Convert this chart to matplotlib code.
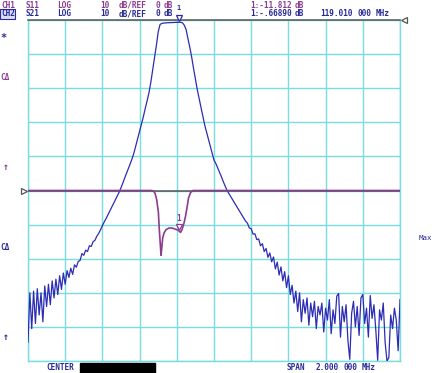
import numpy as np
import matplotlib
matplotlib.use("Agg")
import matplotlib.pyplot as plt
from matplotlib.transforms import offset_copy

# sweep settings (center is blanked out on the screen)
f_start = 118.2
f_stop = 120.2
n_points = 201

# CH2  S21, log mag, 10 dB/div, ref 0 dB at top
s21_db = [
    -94.5, -80.0, -90.5, -79.5, -89.0, -78.8, -86.5, -80.0, -88.5, -78.0,
    -84.0, -77.5, -83.5, -76.5, -81.5, -76.0, -80.5, -75.0, -79.0, -74.2,
    -77.5, -73.5, -75.5, -72.8, -74.6, -71.8, -72.5, -70.8,
    -70.5, -68.5, -69.0, -67.5, -67.9, -66.2, -66.4, -65.0, -64.6, -63.4,
    -62.6, -61.5, -60.3, -59.2, -58.2, -57.1, -56.0, -54.9, -53.8, -52.7,
    -51.6, -50.5,
    -49.2, -47.8, -46.3, -44.9, -43.5, -42.1, -40.6, -38.9, -36.8, -34.8,
    -32.7, -30.6, -28.4, -26.0, -23.8, -21.4, -18.4, -14.8, -11.0, -7.5,
    -3.5, -1.3,
    -1.0, -0.9, -0.85, -0.8, -0.8, -0.75, -0.75, -0.7, -0.7, -0.67, -0.67, -0.8,
    -1.5, -2.8, -5.5, -8.0, -10.9, -14.2, -17.3, -20.4, -23.0, -25.7,
    -28.3, -30.8, -32.9, -34.9, -37.0, -39.0, -41.1,
    -42.1, -43.4, -44.7, -46.0, -47.4, -48.7, -50.0, -50.9, -51.8, -52.7,
    -53.6, -54.5, -55.4, -56.3, -57.2, -58.1, -59.0, -59.6, -61.0,
    -61.2, -62.8, -62.7, -64.4, -64.2, -66.2, -65.6, -67.9, -67.0, -69.6,
    -68.3, -70.9, -69.5, -73.0, -71.0, -74.8, -72.4, -76.5, -73.8, -78.5,
    -75.0,
    -80.5, -77.8, -83.0, -79.5, -85.5, -80.0, -88.5, -82.0, -86.0, -81.5,
    -89.5, -83.0, -87.0, -82.5, -90.5, -84.0, -86.5, -83.0, -91.5, -84.5,
    -88.0, -82.0, -92.0, -85.0, -89.0, -81.0, -80.2, -93.0, -84.0, -88.5,
    -83.5, -94.0, -99.5, -86.0, -82.5, -90.0, -84.0, -92.5, -81.5, -80.5,
    -89.0, -84.5, -93.0, -80.8, -87.5, -83.5, -91.0, -99.8, -85.0, -88.0,
    -83.0, -94.5, -100.0, -99.0, -86.5, -90.5, -84.5, -88.0, -97.0, -82.0,
]

# CH1  S11, log mag, 10 dB/div, ref 0 dB at middle
s11_freq = [118.200, 118.865, 118.875, 118.883, 118.892, 118.901, 118.906,
            118.911, 118.915, 118.919, 118.924, 118.931, 118.942, 118.958,
            118.974, 118.990, 119.006, 119.015, 119.020, 119.028, 119.039,
            119.047, 119.055, 119.063, 119.074, 119.087, 120.200]
s11_db = [0, 0, -0.2, -0.8, -2.7, -6.4, -11.5, -15.5, -19.0, -17.0, -14.0,
          -12.5, -11.5, -11.0, -11.0, -11.3, -11.6, -12.0, -12.3, -11.5,
          -9.5, -7.5, -5.0, -2.2, -0.6, 0, 0]

# marker 1
mk_freq = 119.010
mk_s11 = -11.812
mk_s21 = -0.66890

PURPLE = "#8c3c90"
NAVY = "#2a2a96"
TRACE = "#2c2cb4"
GRID = "#78dce0"
REF = "#555555"

W, H = 436, 373
fig = plt.figure(figsize=(W / 100, H / 100), dpi=100)
fig.patch.set_facecolor("white")

ax = fig.add_axes([28 / W, 12 / H, 372 / W, 341 / H])
ax.set_xlim(f_start, f_stop)
ax.set_ylim(-100, 0)
ax.set_xticks(np.linspace(f_start, f_stop, 11))
ax.set_yticks(np.arange(-100, 1, 10))
ax.grid(True, color=GRID, lw=1.0)
ax.tick_params(length=0, labelbottom=False, labelleft=False)
for side in ["left", "right", "bottom"]:
    ax.spines[side].set_color(GRID)
    ax.spines[side].set_linewidth(1.0)
ax.spines["top"].set_visible(False)

ax2 = ax.twinx()
ax2.set_ylim(-50, 50)
ax2.set_yticks([])
for s in ax2.spines.values():
    s.set_visible(False)

# reference lines
ax.axhline(0, color=REF, lw=1.1, clip_on=False, zorder=3)
ax.plot([1.0 + 4 / 372], [1.0], marker="<", ms=4, mfc="white", mec=REF,
        mew=0.9, transform=ax.transAxes, clip_on=False)
ax2.axhline(0, color=REF, lw=1.1, zorder=2)
ax2.plot([-4 / 372], [0.5], marker=">", ms=4, mfc="white", mec=REF,
         mew=0.9, transform=ax.transAxes, clip_on=False)

# traces
freq = np.linspace(f_start, f_stop, n_points)
ax.plot(freq, s21_db, color=TRACE, lw=0.9, zorder=4)
ax2.plot(s11_freq, s11_db, color=PURPLE, lw=1.2, zorder=3)

# markers
up = offset_copy(ax.transData, fig=fig, x=0, y=4, units="dots")
ax.plot([mk_freq], [mk_s21], marker="v", ms=5, mfc="white", mec=NAVY,
        mew=0.9, transform=up, clip_on=False, zorder=5)
ax.annotate("1", (mk_freq, mk_s21), xytext=(0, 14), textcoords="offset pixels",
            ha="center", va="center", color=NAVY, fontsize=5.0,
            family="DejaVu Sans Mono", weight="bold", annotation_clip=False)
up2 = offset_copy(ax2.transData, fig=fig, x=0, y=4, units="dots")
ax2.plot([mk_freq], [mk_s11], marker="v", ms=5, mfc="white", mec=PURPLE,
         mew=0.9, transform=up2, zorder=5)
ax2.annotate("1", (mk_freq, mk_s11), xytext=(0, 12), textcoords="offset pixels",
             ha="center", va="center", color=PURPLE, fontsize=5.5,
             family="DejaVu Sans Mono", weight="bold")


def put(x, y, s, color, size=5.6, weight="bold", **kw):
    fig.text(x / W, 1 - y / H, s, color=color, fontsize=size, weight=weight,
             family="DejaVu Sans Mono", ha="left", va="center", **kw)


# header
put(1, 5, "CH1", PURPLE)
put(26, 5, "S11", PURPLE)
put(57, 5, "LOG", PURPLE)
put(100, 5, "10", PURPLE)
put(119, 5, "dB/REF", PURPLE)
put(155, 5, "0", PURPLE)
put(164, 5, "dB", PURPLE)
put(250, 5, "1:-11.812", PURPLE)
put(295, 5, "dB", PURPLE)

put(1, 14, "CH2", NAVY, bbox=dict(boxstyle="square,pad=0.08", fc="#dcdcf4",
                                  ec=NAVY, lw=0.8))
put(26, 14, "S21", NAVY)
put(57, 14, "LOG", NAVY)
put(100, 14, "10", NAVY)
put(119, 14, "dB/REF", NAVY)
put(155, 14, "0", NAVY)
put(164, 14, "dB", NAVY)
put(250, 14, "1:-.66890", NAVY)
put(295, 14, "dB", NAVY)
put(320, 14, "119.010", NAVY)
put(357, 14, "000", NAVY)
put(376, 14, "MHz", NAVY)

# left side annotations
put(0, 38, "*", NAVY, size=7.5)
put(0, 77, "C\u0394", PURPLE)
put(3, 167, "\u2191", PURPLE, size=7)
put(0, 247, "C\u0394", NAVY)
put(3, 337, "\u2191", NAVY, size=7)
put(419, 238, "Max", NAVY, size=5.4, weight="normal")

# footer
put(46, 367.5, "CENTER", NAVY)
fig.patches.append(plt.Rectangle((80 / W, 0), 75 / W, 10.5 / H, color="black",
                                 transform=fig.transFigure, figure=fig))
put(287, 367.5, "SPAN", NAVY)
put(316, 367.5, "2.000", NAVY)
put(343, 367.5, "000", NAVY)
put(362, 367.5, "MHz", NAVY)

fig.savefig("out.png", dpi=100, facecolor="white")
